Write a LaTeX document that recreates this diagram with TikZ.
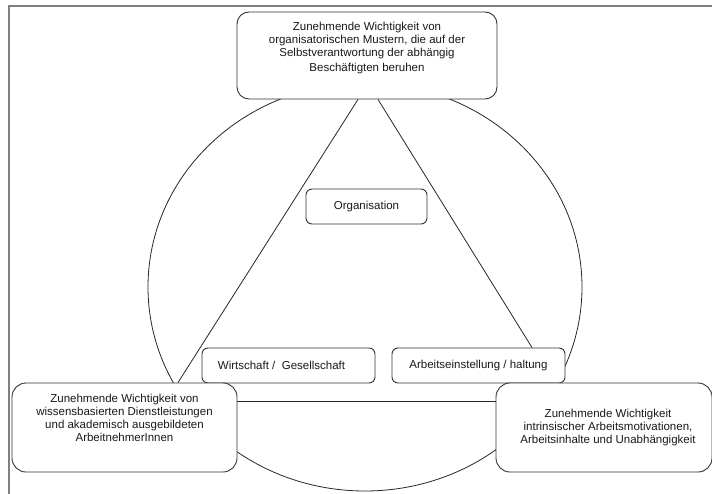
\documentclass[tikz,border=0pt]{standalone}
\usepackage{fontspec}
\setmainfont{Liberation Sans}
\usetikzlibrary{backgrounds,calc}
\begin{document}
\begin{tikzpicture}[x=1bp,y=-1bp,
  box/.style={draw=black!80, fill=white, line width=0.9bp, inner sep=0pt,
    font=\fontsize{11.5bp}{13bp}\selectfont, align=center, text=black!90},
  conn/.style={draw=black!85, line width=0.8bp},
  frame/.style={draw=black!50, line width=2bp}]
\useasboundingbox (0,0) rectangle (712,494);

\node[box, rounded corners=12bp, minimum width=260bp, minimum height=87bp] (top) at (367,55.5)
  {Zunehmende Wichtigkeit von\\organisatorischen Mustern, die auf der\\Selbstverantwortung der abhängig\\[2bp]Beschäftigten beruhen\\[5bp]};
\node[box, rounded corners=6bp, minimum width=121bp, minimum height=35bp] (org) at (366.5,206.5) {Organisation};
\node[box, rounded corners=6bp, minimum width=173bp, minimum height=35bp] (wirt) at (288.5,365.5) {Wirtschaft /\ \ Gesellschaft\hspace{14bp}};
\node[box, rounded corners=6bp, minimum width=173bp, minimum height=35bp] (arb) at (478.5,365.5) {Arbeitseinstellung / haltung};
\node[box, rounded corners=14bp, minimum width=225bp, minimum height=89bp] (lb) at (124.5,427.5)
  {Zunehmende Wichtigkeit von\\wissensbasierten Dienstleistungen\\und akademisch ausgebildeten\\ArbeitnehmerInnen\\[6bp]};
\node[box, rounded corners=14bp, minimum width=216bp, minimum height=89bp] (rb) at (604,427.5)
  {\hspace{8bp}Zunehmende Wichtigkeit\\\hspace{8bp}intrinsischer Arbeitsmotivationen,\\\hspace{8bp}Arbeitsinhalte und Unabhängigkeit};

\begin{pgfonlayer}{background}
  \draw[frame] (8.5,494) -- (8.5,6.5) -- (712,6.5);
  \draw[conn] (365,287) ellipse [x radius=217, y radius=204];
  \draw[conn] ($(top.south)+(-9,0)$) -- ($(lb.north)+(53.5,0)$);
  \draw[conn] ($(top.south)+(11,0)$) -- ($(arb.north)+(53.5,0)$);
  \draw[conn] ($(lb.east)+(0,-26.5)$) -- ($(rb.west)+(0,-26.5)$);
\end{pgfonlayer}
\end{tikzpicture}
\end{document}
